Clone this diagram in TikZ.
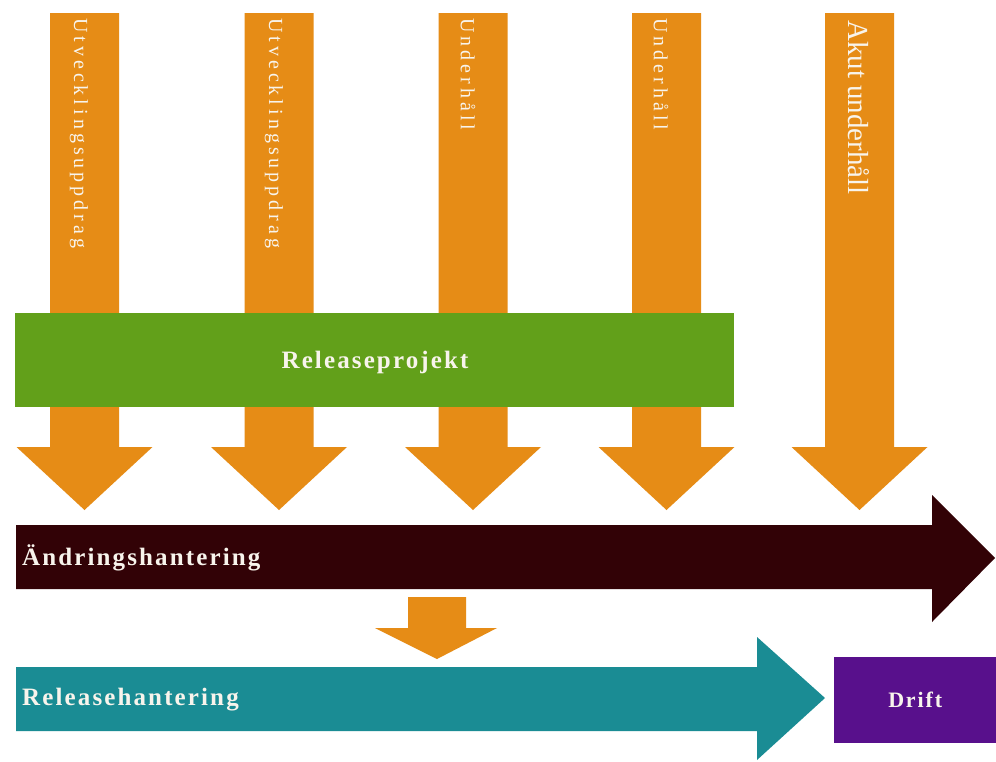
\documentclass[tikz,border=0pt]{standalone}
\usepackage{fontspec}
\setmainfont{Liberation Serif}
\newfontfamily\vtfont[LetterSpace=20]{Liberation Serif}
\newfontfamily\lblfont[LetterSpace=8.5]{Liberation Serif}
\definecolor{orangeA}{RGB}{230,140,22}
\definecolor{greenA}{RGB}{98,160,26}
\definecolor{brownA}{RGB}{50,2,6}
\definecolor{tealA}{RGB}{26,140,148}
\definecolor{purpleA}{RGB}{88,16,140}
\definecolor{creamA}{RGB}{248,244,236}
\tikzset{
  vlabel/.style={rotate=-90, anchor=west, inner sep=0pt, text=creamA},
  vsmall/.style={vlabel, font=\vtfont\fontsize{20}{22}\selectfont},
  blabel/.style={inner sep=0pt, text=creamA, font=\lblfont\bfseries\fontsize{25}{28}\selectfont},
}
\begin{document}
\begin{tikzpicture}[x=1pt,y=-1pt]
\useasboundingbox (0,0) rectangle (996,761);
\fill[white] (0,0) rectangle (996,761);
% orange down arrows
\foreach \c in {84.5,279,473,666.5,859.5}{
  \fill[orangeA] (\c-34.5,13) -- (\c+34.5,13) -- (\c+34.5,447) -- (\c+68,447) -- (\c,510) -- (\c-68,447) -- (\c-34.5,447) -- cycle;
}
% vertical labels
\node[vsmall] (u1) at (79,18) {Utvecklingsuppdrag};
\node[vsmall] (u2) at (274,18) {Utvecklingsuppdrag};
\node[vsmall] (u3) at (468,18) {Underhåll};
\node[vsmall] (u4) at (661,18) {Underhåll};
\node[vlabel, font=\fontsize{29}{31}\selectfont] (u5) at (859,20) {Akut underhåll};
% green release project
\node[fill=greenA, minimum width=719pt, minimum height=94pt, inner sep=0pt, anchor=north west] (rp) at (15,313) {};
\node[blabel] (rpt) at (375,362) {Releaseprojekt};
% change management arrow
\fill[brownA] (16,525) -- (932,525) -- (932,495) -- (995,558) -- (932,622) -- (932,589) -- (16,589) -- cycle;
\node[blabel, anchor=west] (ah) at (22,558) {Ändringshantering};
% small orange arrow
\fill[orangeA] (408,597) -- (466,597) -- (466,628) -- (497,628) -- (437,659) -- (375,628) -- (408,628) -- cycle;
% release management arrow
\fill[tealA] (16,667) -- (757,667) -- (757,637) -- (825,698) -- (757,760) -- (757,731) -- (16,731) -- cycle;
\node[blabel, anchor=west] (rh) at (22,700) {Releasehantering};
% drift box
\node[fill=purpleA, minimum width=162pt, minimum height=86pt, inner sep=0pt, anchor=north west] (dr) at (834,657) {};
\node[blabel, font=\lblfont\bfseries\fontsize{22}{24}\selectfont] (drt) at (dr.center) {Drift};
\end{tikzpicture}
\end{document}
